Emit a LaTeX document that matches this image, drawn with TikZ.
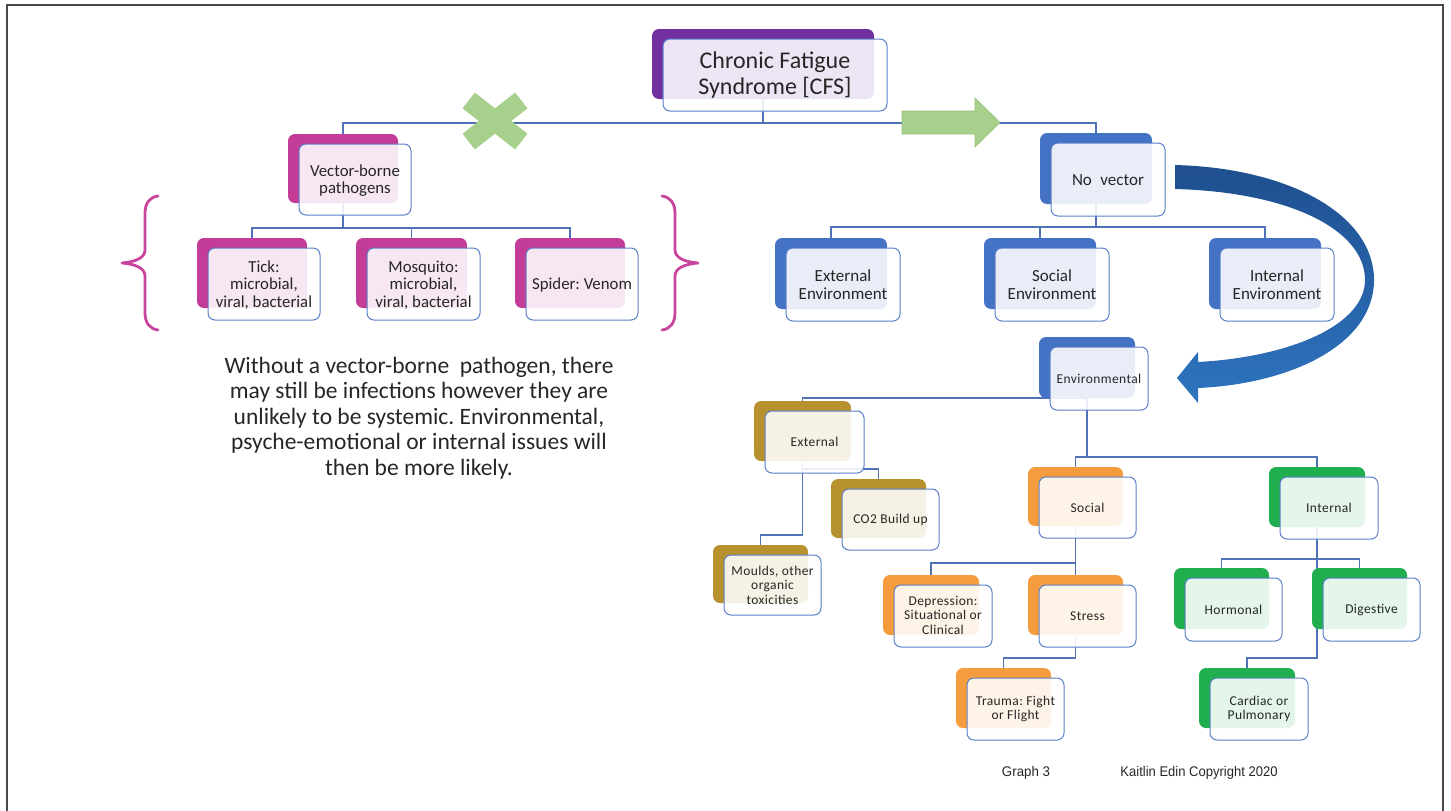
\documentclass[tikz,border=0pt]{standalone}
\usepackage{fontspec}
\setmainfont{Carlito}
\newfontfamily\smallfam[LetterSpace=3]{Carlito}
\newfontfamily\armfam{Liberation Sans}
\usetikzlibrary{fit,backgrounds}
\definecolor{purp}{HTML}{7030A0}
\definecolor{pinkc}{HTML}{C23C98}
\definecolor{bracec}{HTML}{C8449E}
\definecolor{bluec}{HTML}{4472C4}
\definecolor{goldc}{HTML}{B8912F}
\definecolor{orangec}{HTML}{F59D3E}
\definecolor{greenc}{HTML}{21AE4E}
\definecolor{frc}{HTML}{5B80C8}
\definecolor{lnc}{HTML}{4F71B6}
\definecolor{txt}{HTML}{262626}
\definecolor{lgreen}{HTML}{A8D08D}
\definecolor{lgreenedge}{HTML}{93C177}
\definecolor{arrtop}{HTML}{1F4F8F}
\definecolor{arrbot}{HTML}{2E74BF}
\definecolor{framec}{HTML}{4A4A4A}
\newcommand{\fRoot}{\fontsize{24}{26.5}\selectfont}
\newcommand{\fMid}{\fontsize{16.8}{17.5}\selectfont}
\newcommand{\fBlue}{\fontsize{17}{18}\selectfont}
\newcommand{\fSmall}{\smallfam\fontsize{13.5}{14.5}\selectfont}
\tikzset{
  bk/.style={rectangle, rounded corners=7pt, inner sep=0pt, outer sep=0pt, draw=none},
  fr/.style={rectangle, rounded corners=7pt, inner sep=0pt, outer sep=0pt, draw=frc, line width=1pt,
    fill=white, fill opacity=0.88},
  boxtext/.style={align=center, text=txt, inner sep=0pt},
  conn/.style={draw=lnc, line width=1.1pt},
  bracestyle/.style={draw=bracec, line width=2.8pt, line cap=round, line join=round},
}
% name, x1, y1, x2, y2, colour, font, text, text shift
\newcommand{\dbox}[9]{%
  \node[bk, fill=#6, fit={(#2,#3) (#4,#5)}] (#1-b) {};
  \path (#2,#3) ++(11,10) coordinate (#1-p);
  \path (#4,#5) ++(13,12) coordinate (#1-q);
  \node[fr, fit={(#1-p) (#1-q)}] (#1) {};
  \node[boxtext, font=#7, yshift=#9] (#1-t) at (#1.center) {#8};
}
\begin{document}
\frenchspacing
\begin{tikzpicture}[x=1pt,y=-1pt]
\useasboundingbox (0,0) rectangle (1451,811);
% frame
\draw[framec, line width=1.5pt] (7,811) -- (7,5) -- (1443,5) -- (1443,811);

% boxes
\dbox{root}{652}{29}{874}{99}{purp}{\fRoot}{Chronic Fatigue\\Syndrome [CFS]}{0pt}
\dbox{vb}{288}{134}{398}{203}{pinkc}{\fMid}{Vector-borne\\pathogens}{-1pt}
\dbox{tick}{197}{238}{307}{308}{pinkc}{\fMid}{Tick:\\microbial,\\viral, bacterial}{-1pt}
\dbox{mosq}{356}{238}{467}{308}{pinkc}{\fMid}{Mosquito:\\microbial,\\viral, bacterial}{-1pt}
\dbox{spider}{515}{238}{625}{308}{pinkc}{\fMid}{Spider: Venom}{-1pt}
\dbox{nv}{1040}{133}{1152}{204}{bluec}{\fBlue}{No\enspace vector}{-1pt}
\dbox{ee}{775}{238}{887}{309}{bluec}{\fBlue}{External\\Environment}{-0.5pt}
\dbox{se}{984}{238}{1096}{309}{bluec}{\fBlue}{Social\\Environment}{-0.5pt}
\dbox{ie}{1209}{238}{1321}{309}{bluec}{\fBlue}{Internal\\Environment}{-0.5pt}
\dbox{env}{1039}{337}{1135}{398}{bluec}{\fSmall}{Environmental}{0pt}
\dbox{ext}{754}{401}{851}{461}{goldc}{\fSmall}{External}{0pt}
\dbox{co2}{831}{479}{926}{538}{goldc}{\fSmall}{CO2 Build up}{0pt}
\dbox{mould}{713}{545}{808}{603}{goldc}{\fSmall}{Moulds, other\\organic\\toxicities}{0pt}
\dbox{soc}{1028}{467}{1123}{526}{orangec}{\fSmall}{Social}{0pt}
\dbox{dep}{883}{575}{979}{635}{orangec}{\fSmall}{Depression:\\Situational or\\Clinical}{1pt}
\dbox{stress}{1028}{575}{1123}{635}{orangec}{\fSmall}{Stress}{0pt}
\dbox{trauma}{956}{668}{1051}{728}{orangec}{\fSmall}{Trauma: Fight\\or Flight}{0pt}
\dbox{int}{1269}{467}{1365}{527}{greenc}{\fSmall}{Internal}{0pt}
\dbox{hor}{1174}{568}{1269}{629}{greenc}{\fSmall}{Hormonal}{0pt}
\dbox{dig}{1312}{568}{1407}{629}{greenc}{\fSmall}{Digestive}{0pt}
\dbox{card}{1199}{668}{1295}{728}{greenc}{\fSmall}{Cardiac or\\Pulmonary}{0pt}

% connectors (behind the boxes)
\begin{pgfonlayer}{background}
  \coordinate (j1) at (763,123);
  \draw[conn] (root-b.south) -- (j1);
  \draw[conn] (vb-b.north) |- (j1) -| (nv-b.north);
  \coordinate (j2) at (343,228);
  \draw[conn] (vb-b.south) -- (j2);
  \draw[conn] (tick-b.north) |- (j2) -| (spider-b.north);
  \draw[conn] (mosq-b.north) -- (mosq-b.north |- j2);
  \coordinate (j3) at (1096,227);
  \draw[conn] (nv-b.south) -- (j3);
  \draw[conn] (ee-b.north) |- (j3) -| (ie-b.north);
  \draw[conn] (se-b.north) -- (se-b.north |- j3);
  \draw[conn] (env-b.south) -| (ext-b.north);
  \coordinate (j4) at (1087,457);
  \draw[conn] (env-b.south) -- (j4);
  \draw[conn] (soc-b.north) |- (j4) -| (int-b.north);
  \coordinate (j5) at (802.5,535);
  \draw[conn] (ext-b.south) -- (j5) -| (mould-b.north);
  \coordinate (j6) at (802.5,469);
  \draw[conn] (j6) -| (co2-b.north);
  \coordinate (j7) at (1075.5,563);
  \draw[conn] (soc-b.south) -- (stress-b.north);
  \draw[conn] (j7) -| (dep-b.north);
  \coordinate (j8) at (1075.5,658);
  \draw[conn] (stress-b.south) -- (j8) -| (trauma-b.north);
  \coordinate (j9) at (1317,559);
  \draw[conn] (hor-b.north) |- (j9) -| (dig-b.north);
  \coordinate (j10) at (1317,658);
  \draw[conn] (int-b.south) -- (j10) -| (card-b.north);
\end{pgfonlayer}

% green cross
\fill[lgreen, rotate around={38:(495,121)}] (461.6,111) rectangle (528.4,131);
\fill[lgreen, rotate around={-38:(495,121)}] (461.6,111) rectangle (528.4,131);
% green arrow
\filldraw[fill=lgreen, draw=lgreenedge, line width=0.6pt]
  (902,111) -- (975,111) -- (975,98) -- (1000,122.5) -- (975,147) -- (975,134) -- (902,134) -- cycle;

% curved blue arrow
\shade[top color=arrtop, bottom color=arrbot]
  (1175,165) .. controls (1290,168) and (1374,215) .. (1374,280)
  .. controls (1374,345) and (1290,384) .. (1198,388)
  -- (1198,403) -- (1177,378) -- (1198,352) -- (1198,362)
  .. controls (1290,357) and (1365,325) .. (1365,280)
  .. controls (1365,230) and (1290,192) .. (1175,189) -- cycle;

% braces
\draw[bracestyle] (158,196) .. controls (150,197) and (145,203) .. (145,213) -- (145,250)
  .. controls (145,258) and (135,262) .. (122,263)
  .. controls (135,264) and (145,268) .. (145,276) -- (145,313)
  .. controls (145,323) and (150,329) .. (158,330);
\draw[bracestyle] (662,196) .. controls (670,197) and (675,203) .. (675,213) -- (675,250)
  .. controls (675,258) and (685,262) .. (698,263)
  .. controls (685,264) and (675,268) .. (675,276) -- (675,313)
  .. controls (675,323) and (670,329) .. (662,330);

% paragraph
\node[align=center, text=txt, font=\fontsize{23.5}{25.5}\selectfont] (note) at (419,418)
  {Without a vector-borne\ \ pathogen, there\\may still be infections however they are\\unlikely to be systemic. Environmental,\\psyche-emotional or internal issues will\\then be more likely.};

% footer
\node[text=txt, font=\armfam\fontsize{14}{16}\selectfont] (graph) at (1026,773) {\scalebox{0.95}[1]{Graph 3}};
\node[text=txt, font=\armfam\fontsize{14}{16}\selectfont] (copy) at (1199,773) {\scalebox{0.93}[1]{Kaitlin Edin Copyright 2020}};
\end{tikzpicture}
\end{document}
